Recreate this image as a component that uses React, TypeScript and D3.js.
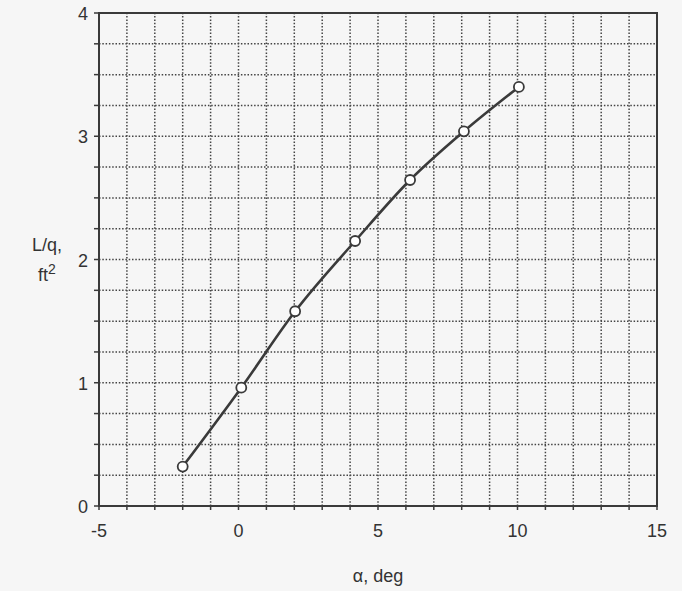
import React from 'react';
import * as d3 from 'd3';

const alphaDeg = [-2.0, 0.1, 2.03, 4.18, 6.15, 8.08, 10.05];
const liftPerQ = [0.32, 0.96, 1.58, 2.15, 2.645, 3.04, 3.40];
const xTickLabels = [-5, 0, 5, 10, 15];
const yTickLabels = [0, 1, 2, 3, 4];

const W = 682;
const H = 591;
const margin = { left: 99, right: 25, top: 13, bottom: 85 };

export default function App() {
  const x = d3.scaleLinear().domain([-5, 15]).range([margin.left, W - margin.right]);
  const y = d3.scaleLinear().domain([0, 4]).range([H - margin.bottom, margin.top]);

  const xGrid = d3.range(-5, 15.01, 1);
  const yGrid = d3.range(0, 4.01, 0.25);
  const pts = alphaDeg.map((a, i) => [a, liftPerQ[i]] as [number, number]);
  const line = d3.line<[number, number]>()
    .x(d => x(d[0]))
    .y(d => y(d[1]))
    .curve(d3.curveMonotoneX);

  const ink = '#3a3a3a';
  const font = '"Liberation Sans", Arial, sans-serif';

  return (
    <svg width={W} height={H} style={{ position: 'absolute', left: 0, top: 0, background: '#f6f6f6' }}>
      <rect x={0} y={0} width={W} height={H} fill="#f6f6f6" />
      {/* dotted grid */}
      {xGrid.map(v => (
        <line key={'gx' + v} x1={x(v)} x2={x(v)} y1={y(0)} y2={y(4)}
          stroke="#444" strokeWidth={1.5} strokeDasharray="1.5,1.8" />
      ))}
      {yGrid.map(v => (
        <line key={'gy' + v} x1={x(-5)} x2={x(15)} y1={y(v)} y2={y(v)}
          stroke="#444" strokeWidth={1.5} strokeDasharray="1.5,1.8" />
      ))}
      {/* ticks */}
      {xGrid.map(v => (
        <line key={'tx' + v} x1={x(v)} x2={x(v)} y1={y(0)} y2={y(0) + 4} stroke={ink} strokeWidth={1.5} />
      ))}
      {yGrid.map(v => (
        <line key={'ty' + v} x1={x(-5) - 5} x2={x(-5)} y1={y(v)} y2={y(v)} stroke={ink} strokeWidth={1.5} />
      ))}
      {/* frame */}
      <rect x={x(-5)} y={y(4)} width={x(15) - x(-5)} height={y(0) - y(4)}
        fill="none" stroke={ink} strokeWidth={2} />
      {/* curve */}
      <path d={line(pts) || ''} fill="none" stroke={ink} strokeWidth={2.6} />
      {pts.map((p, i) => (
        <circle key={'p' + i} cx={x(p[0])} cy={y(p[1])} r={5} fill="#fff" stroke={ink} strokeWidth={1.8} />
      ))}
      {/* tick labels */}
      {xTickLabels.map(v => (
        <text key={'lx' + v} x={x(v)} y={y(0) + 31} textAnchor="middle"
          fontFamily={font} fontSize={18} fill="#333">{v}</text>
      ))}
      {yTickLabels.map(v => (
        <text key={'ly' + v} x={x(-5) - 11} y={y(v) + 7} textAnchor="end"
          fontFamily={font} fontSize={18} fill="#333">{v}</text>
      ))}
      {/* axis titles */}
      <text x={x(5)} y={582} textAnchor="middle" fontFamily={font} fontSize={18} fill="#333">α, deg</text>
      <text x={47} y={251} textAnchor="middle" fontFamily={font} fontSize={18} fill="#333">L/q,</text>
      <text x={47} y={281} textAnchor="middle" fontFamily={font} fontSize={18} fill="#333">
        ft<tspan dy={-7} fontSize={14}>2</tspan>
      </text>
    </svg>
  );
}
